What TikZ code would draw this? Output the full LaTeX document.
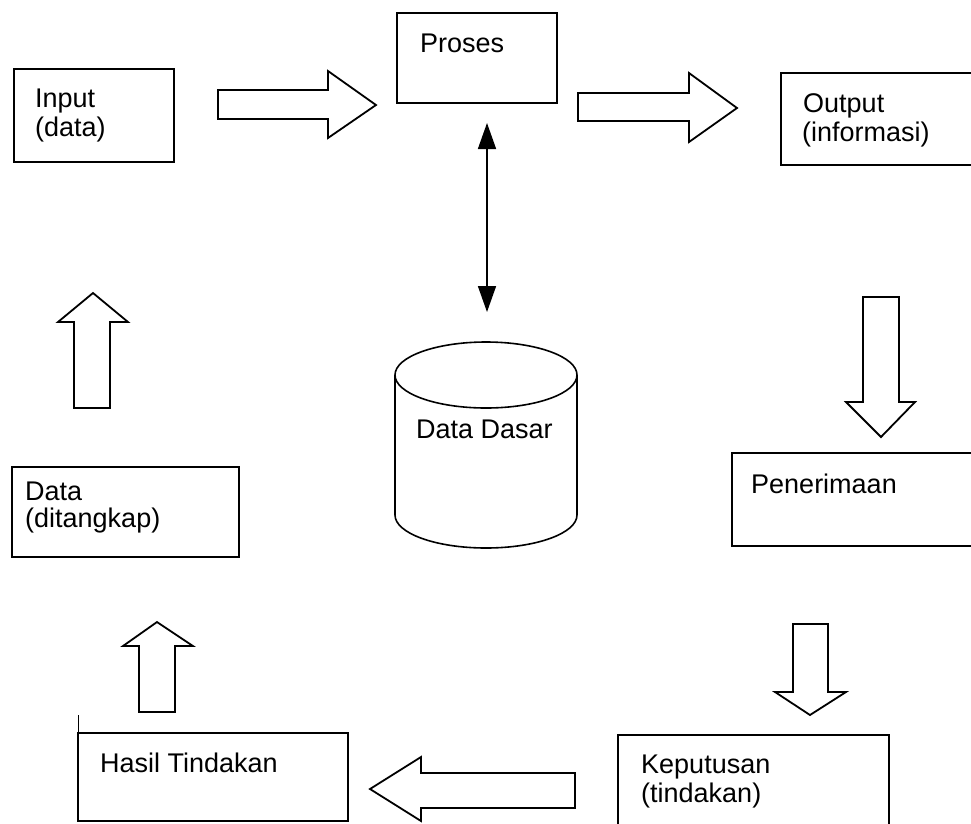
\documentclass[tikz,border=0pt]{standalone}
\usepackage{fontspec}
\setmainfont{Liberation Sans}
\usetikzlibrary{arrows.meta,calc}
\begin{document}
\begin{tikzpicture}[x=1pt,y=-1pt,
  box/.style={draw, line width=1.6pt, inner sep=0pt, outer sep=0pt, anchor=north west},
  lbl/.style={anchor=base west, inner sep=0pt, font=\fontsize{27}{28}\selectfont},
  blockarrow/.style={draw, line width=1.8pt, line join=miter, fill=white},
  dbl/.style={line width=1.6pt, {Triangle[length=26pt,width=18pt]}-{Triangle[length=26pt,width=18pt]}}]
\clip (0,0) rectangle (971,823);
\fill[white] (0,0) rectangle (971,823);

% boxes
\node[box, minimum width=160pt, minimum height=93pt] (input) at (14,69) {};
\node[box, minimum width=160pt, minimum height=90pt] (proses) at (397,13) {};
\node[box, minimum width=220pt, minimum height=92pt] (output) at (781,73) {};
\node[box, minimum width=227pt, minimum height=90pt] (data) at (12,467) {};
\node[box, minimum width=260pt, minimum height=93pt] (penerimaan) at (732,453) {};
\node[box, minimum width=270pt, minimum height=88pt] (hasil) at (78,733) {};
\node[box, minimum width=271pt, minimum height=120pt] (keputusan) at (618,735) {};
\draw[line width=0.8pt] (hasil.north west) -- ++(0,-18);

% labels
\node[lbl] (inputA) at (35,107) {Input};
\node[lbl] (inputB) at (35,136) {(data)};
\node[lbl] (prosesA) at (420,52) {Proses};
\node[lbl] (outputA) at (803,112) {Output};
\node[lbl] (outputB) at (802,141) {(informasi)};
\node[lbl] (dataA) at (25,500) {Data};
\node[lbl] (dataB) at (25,527) {(ditangkap)};
\node[lbl] (penerimaanA) at (751,493) {Penerimaan};
\node[lbl] (hasilA) at (100,772) {Hasil Tindakan};
\node[lbl] (keputusanA) at (641,773) {Keputusan};
\node[lbl] (keputusanB) at (641,802) {(tindakan)};

% database cylinder
\draw[line width=1.6pt] (486,375) ellipse [x radius=91pt, y radius=33pt];
\draw[line width=1.6pt] (395,375) -- (395,515)
  arc[start angle=180, end angle=360, x radius=91pt, y radius=33pt] -- (577,375);
\coordinate (ddtop) at (487,342);
\node[lbl] (dasar) at (416,438) {Data Dasar};

% two-way link between the process and the database
\draw[dbl, shorten <=20pt, shorten >=30pt] (ddtop |- proses.south) -- (ddtop);

% block arrows of the cycle
\draw[blockarrow] (218,90) -- (328,90) -- (328,71) -- (376,105) -- (328,138) -- (328,119) -- (218,119) -- cycle;
\draw[blockarrow] (578,93) -- (689,93) -- (689,73) -- (737,108) -- (689,142) -- (689,121) -- (578,121) -- cycle;
\draw[blockarrow] (863,297) -- (899,297) -- (899,402) -- (915,402) -- (881,437) -- (846,402) -- (863,402) -- cycle;
\draw[blockarrow] (793,624) -- (828,624) -- (828,692) -- (846,692) -- (810,715) -- (775,692) -- (793,692) -- cycle;
\draw[blockarrow] (575,773) -- (421,773) -- (421,757) -- (370,789) -- (421,821) -- (421,808) -- (575,808) -- cycle;
\draw[blockarrow] (139,712) -- (139,646) -- (123,646) -- (157,622) -- (193,646) -- (175,646) -- (175,712) -- cycle;
\draw[blockarrow] (74,408) -- (74,322) -- (58,322) -- (93,293) -- (128,322) -- (110,322) -- (110,408) -- cycle;
\end{tikzpicture}
\end{document}
